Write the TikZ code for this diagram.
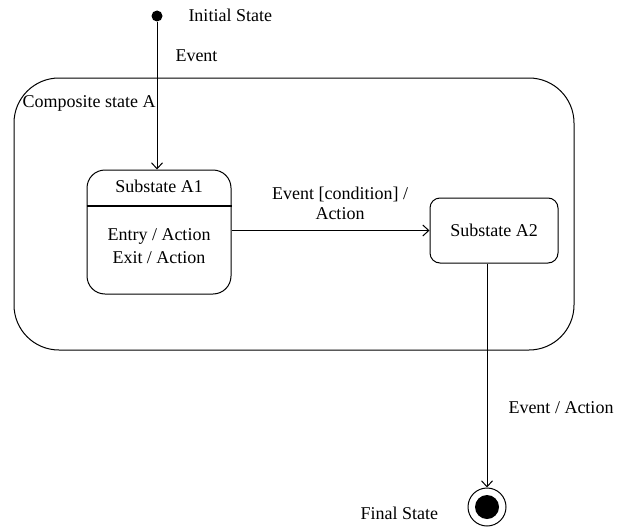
\documentclass[tikz,border=0pt]{standalone}
\usepackage{fontspec}
\setmainfont{Liberation Serif}
\usetikzlibrary{arrows.meta}
\begin{document}
\begin{tikzpicture}[x=1pt,y=-1pt, line width=1pt,
  lbl/.style={font=\fontsize{18}{20}\selectfont, inner sep=0pt},
  statebox/.style={draw, rounded corners=#1, inner sep=0pt},
  trans/.style={-{Straight Barb[length=6pt,width=11pt]}},
]
\useasboundingbox (0,0) rectangle (618,527);

% composite state
\node[statebox=45pt, minimum width=560pt, minimum height=272pt] (A) at (294,214) {};
\node[lbl, anchor=west] (Alabel) at (22,103) {Composite state A};

% initial pseudo state
\node[circle, fill, inner sep=0pt, minimum size=11pt] (init) at (157,16) {};
\node[lbl, anchor=west] (initlabel) at (188,15) {Initial State};

% substate A1 with its compartments
\node[statebox=18pt, minimum width=144pt, minimum height=124pt] (A1) at (159,232) {};
\node[lbl] (A1title) at (159,186) {Substate A1};
\coordinate (div) at (0,206);
\draw[line width=2pt] (A1.west |- div) -- (A1.east |- div);
\node[lbl, align=center, font=\fontsize{18}{23}\selectfont] (A1body) at (159,246.5) {Entry / Action\\Exit / Action};

% substate A2
\node[statebox=10pt, minimum width=128pt, minimum height=65pt, lbl] (A2) at (494,230.5) {Substate A2};

% final state
\node[circle, draw, inner sep=0pt, minimum size=38pt] (final) at (487,507) {};
\node[circle, fill, inner sep=0pt, minimum size=24pt] (finalin) at (final.center) {};
\node[lbl, anchor=west] (finallabel) at (360,513) {Final State};

% transitions
\draw[trans] (init) -- (init |- A1.north);
\node[lbl, anchor=west] (ev1) at (175,56) {Event};

\draw[trans] (A1.east |- A2.west) -- (A2.west);
\node[lbl, align=center] (ev2) at (340,203) {Event [condition] /\\Action};

\draw[trans] (final |- A2.south) -- (final.north);
\node[lbl, anchor=west] (ev3) at (508,408) {Event / Action};
\end{tikzpicture}
\end{document}
